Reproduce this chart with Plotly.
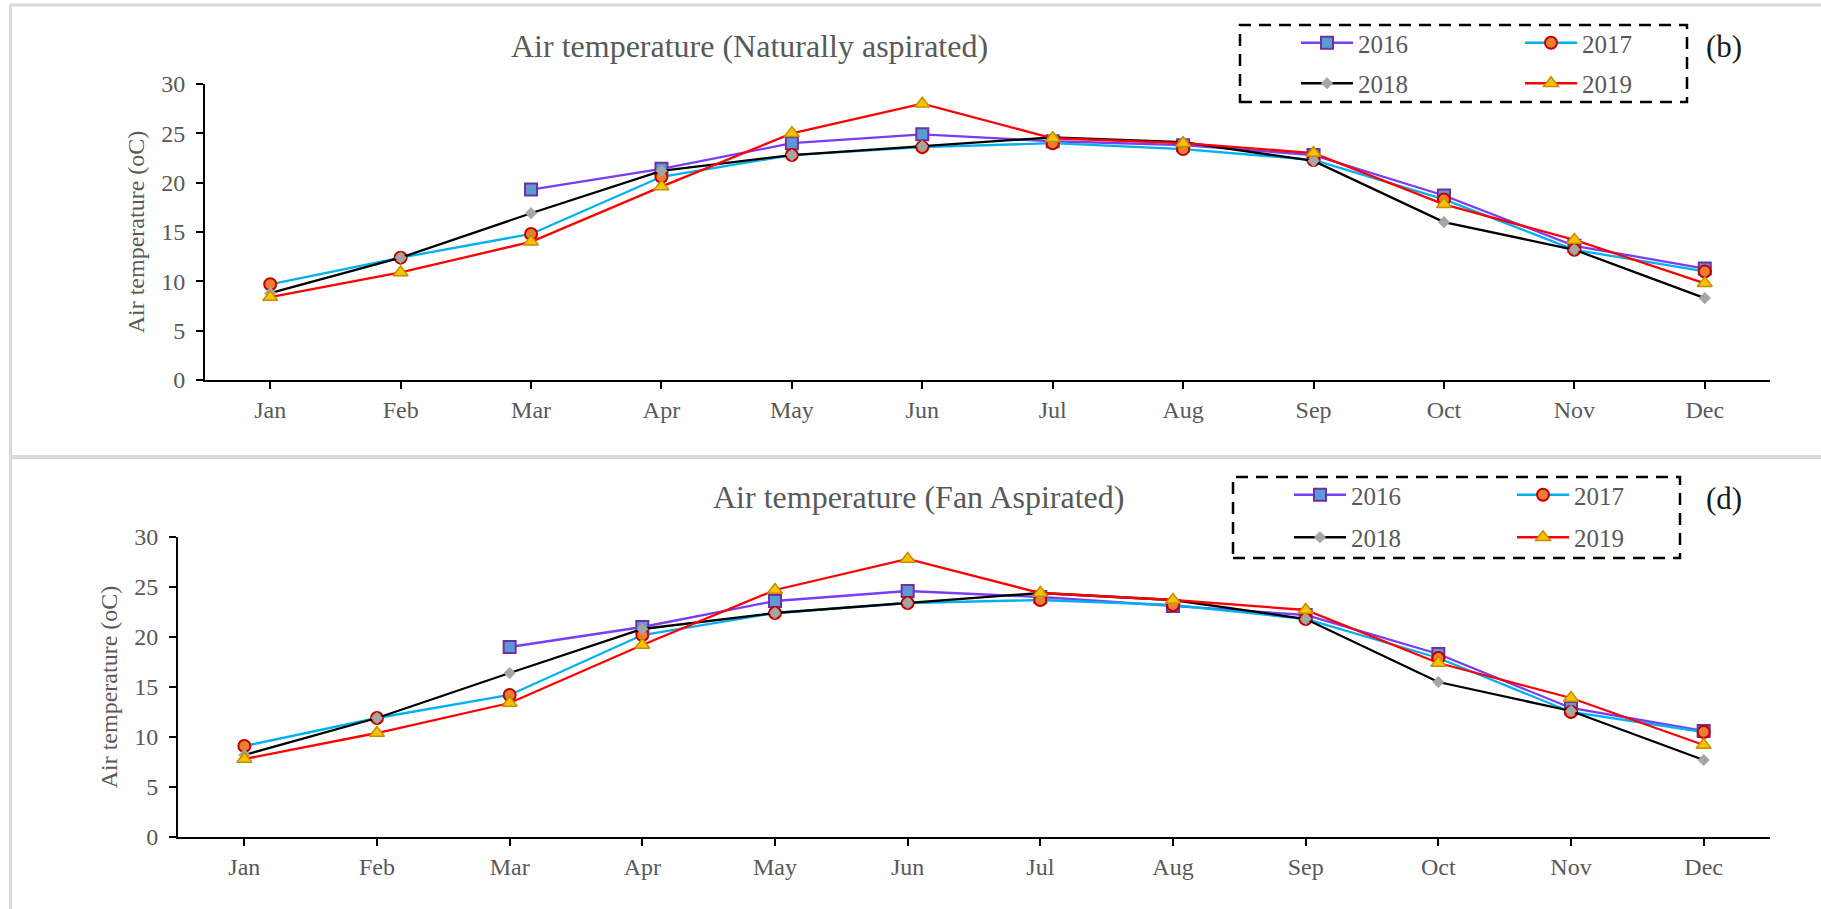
import plotly.graph_objects as go

W, H = 1821, 909

months = ["Jan", "Feb", "Mar", "Apr", "May", "Jun", "Jul", "Aug", "Sep", "Oct", "Nov", "Dec"]
years = ["2016", "2017", "2018", "2019"]

# (b) Naturally aspirated
nat_2016 = [None, None, 19.3, 21.4, 24.0, 24.9, 24.2, 23.8, 22.8, 18.7, 13.6, 11.3]
nat_2017 = [9.7, 12.4, 14.8, 20.6, 22.8, 23.6, 24.0, 23.4, 22.3, 18.3, 13.2, 11.0]
nat_2018 = [8.8, 12.4, 16.9, 21.2, 22.8, 23.7, 24.6, 24.1, 22.2, 16.0, 13.2, 8.3]
nat_2019 = [8.4, 10.9, 14.0, 19.6, 25.0, 28.0, 24.5, 24.0, 23.0, 17.8, 14.2, 9.8]

# (d) Fan aspirated
fan_2016 = [None, None, 19.0, 21.0, 23.6, 24.6, 24.0, 23.1, 22.2, 18.3, 12.9, 10.6]
fan_2017 = [9.1, 11.9, 14.2, 20.2, 22.4, 23.4, 23.7, 23.2, 21.8, 17.9, 12.5, 10.5]
fan_2018 = [8.2, 11.9, 16.4, 20.8, 22.4, 23.4, 24.4, 23.7, 21.8, 15.5, 12.6, 7.7]
fan_2019 = [7.8, 10.4, 13.4, 19.2, 24.7, 27.8, 24.4, 23.7, 22.7, 17.4, 13.9, 9.2]

titles = ["Air temperature (Naturally aspirated)", "Air temperature (Fan Aspirated)"]
panel_tags = ["(b)", "(d)"]
ytitle = "Air temperature (oC)"
yticks = [0, 5, 10, 15, 20, 25, 30]

FONT = "Liberation Serif"
GRAY = "#595959"

styles = {
    "2016": dict(line="#7A3CF5", symbol="square", size=12, fill="#5B9BD5", edge="#7030A0", ew=2),
    "2017": dict(line="#00B0F0", symbol="circle", size=12, fill="#ED7D31", edge="#C00000", ew=2),
    "2018": dict(line="#000000", symbol="diamond", size=9, fill="#A5A5A5", edge="#A5A5A5", ew=0.5),
    "2019": dict(line="#FF0000", symbol="triangle-up", size=13, fill="#FFC000", edge="#BF9000", ew=1.5),
}

def px(x):
    return x / W

def py(y):
    return 1 - y / H

fig = go.Figure()

panels = [
    dict(data=[nat_2016, nat_2017, nat_2018, nat_2019], xa="x", ya="y",
         left=205, right=1770, top=84, bottom=380,
         legends=("legend", "legend2"), leg_x=(1296, 1520), leg_y=20, gap=5),
    dict(data=[fan_2016, fan_2017, fan_2018, fan_2019], xa="x2", ya="y2",
         left=178, right=1770, top=537, bottom=837,
         legends=("legend3", "legend4"), leg_x=(1289, 1512), leg_y=472, gap=7),
]

for pi, p in enumerate(panels):
    for yi, (yr, vals) in enumerate(zip(years, p["data"])):
        s = styles[yr]
        leg = p["legends"][0] if yr in ("2016", "2018") else p["legends"][1]
        fig.add_trace(go.Scatter(
            x=months, y=vals, name=yr, mode="lines+markers",
            xaxis=p["xa"], yaxis=p["ya"], legend=leg,
            legendgroup=f"p{pi}_{yr}",
            line=dict(color=s["line"], width=2.3),
            marker=dict(symbol=s["symbol"], size=s["size"], color=s["fill"],
                        line=dict(color=s["edge"], width=s["ew"])),
            connectgaps=False,
        ))

axis_common = dict(
    showline=True, linecolor="black", linewidth=2,
    ticks="outside", ticklen=7, tickwidth=2, tickcolor="black",
    showgrid=False, zeroline=False, automargin=False,
    tickfont=dict(family=FONT, size=24, color=GRAY),
)

layout = dict(
    width=W, height=H,
    margin=dict(l=0, r=0, t=0, b=0, pad=0, autoexpand=False),
    paper_bgcolor="white", plot_bgcolor="white",
    showlegend=True,
    font=dict(family=FONT, color=GRAY),
)

for pi, p in enumerate(panels):
    sfx = "" if pi == 0 else "2"
    layout["xaxis" + sfx] = dict(
        axis_common, domain=[px(p["left"]), px(p["right"])],
        anchor="y" + sfx, type="category", categoryorder="array",
        categoryarray=months, range=[-0.5, 11.5], ticklabelstandoff=0,
    )
    layout["yaxis" + sfx] = dict(
        axis_common, domain=[py(p["bottom"]), py(p["top"])],
        anchor="x" + sfx, range=[0, 30], tickvals=yticks, ticklabelstandoff=6,
        title=dict(text=ytitle, font=dict(family=FONT, size=24, color=GRAY), standoff=10),
    )
    for li, leg in enumerate(p["legends"]):
        layout[leg] = dict(
            x=px(p["leg_x"][li]), y=py(p["leg_y"]), xanchor="left", yanchor="top",
            orientation="v", bgcolor="rgba(0,0,0,0)", borderwidth=0,
            font=dict(family=FONT, size=25, color=GRAY),
            itemwidth=52, tracegroupgap=p["gap"], traceorder="grouped",
        )

fig.update_layout(**layout)

annotations = [
    dict(text=titles[0], x=px(749), y=py(46), xref="paper", yref="paper",
         showarrow=False, xanchor="center", yanchor="middle",
         font=dict(family=FONT, size=32, color=GRAY)),
    dict(text=titles[1], x=px(918), y=py(497), xref="paper", yref="paper",
         showarrow=False, xanchor="center", yanchor="middle",
         font=dict(family=FONT, size=32, color=GRAY)),
    dict(text=panel_tags[0], x=px(1724), y=py(46), xref="paper", yref="paper",
         showarrow=False, xanchor="center", yanchor="middle",
         font=dict(family=FONT, size=31, color="#1a1a1a")),
    dict(text=panel_tags[1], x=px(1724), y=py(499), xref="paper", yref="paper",
         showarrow=False, xanchor="center", yanchor="middle",
         font=dict(family=FONT, size=31, color="#1a1a1a")),
]

BORDER = "#D9D9D9"
shapes = [
    # panel frames
    dict(type="line", xref="paper", yref="paper", x0=px(10.5), x1=px(10.5), y0=py(5), y1=0,
         line=dict(color=BORDER, width=3)),
    dict(type="line", xref="paper", yref="paper", x0=px(10), x1=1, y0=py(5), y1=py(5),
         line=dict(color=BORDER, width=3)),
    dict(type="line", xref="paper", yref="paper", x0=px(10), x1=1, y0=py(457), y1=py(457),
         line=dict(color=BORDER, width=4)),
    # dashed legend boxes
    dict(type="rect", xref="paper", yref="paper", x0=px(1240), x1=px(1687), y0=py(102), y1=py(25),
         line=dict(color="black", width=2.5, dash="12px,8px"), fillcolor="rgba(0,0,0,0)"),
    dict(type="rect", xref="paper", yref="paper", x0=px(1233), x1=px(1680), y0=py(558), y1=py(477),
         line=dict(color="black", width=2.5, dash="12px,8px"), fillcolor="rgba(0,0,0,0)"),
]

fig.update_layout(annotations=annotations, shapes=shapes)

fig.write_html("out.html", config={"responsive": False, "displayModeBar": False})
